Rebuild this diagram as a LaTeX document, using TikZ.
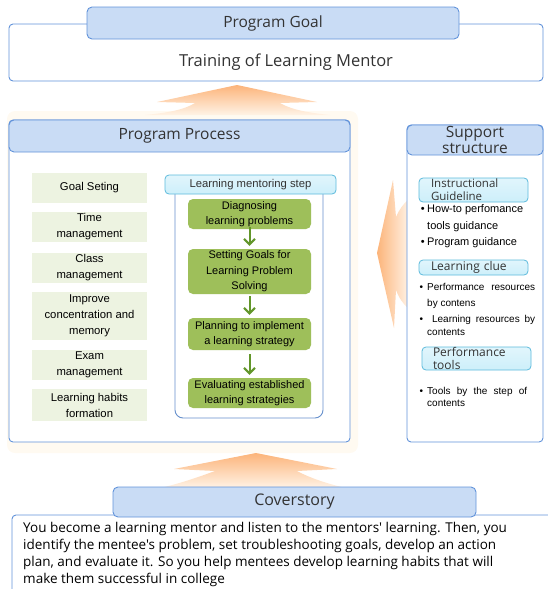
\documentclass[tikz,border=0pt]{standalone}
\usepackage{fontspec}
\setmainfont{Liberation Sans}
\newfontfamily\hfont{Open Sans}
\usetikzlibrary{arrows.meta}
\definecolor{bordblue}{HTML}{6293DA}
\definecolor{headblue}{HTML}{C9DCF5}
\definecolor{palegreen}{HTML}{EDF3E1}
\definecolor{stepgreen}{HTML}{9EBF5A}
\definecolor{flowgreen}{HTML}{62962A}
\definecolor{tagfill}{HTML}{CDEFFA}
\definecolor{tagdraw}{HTML}{5DBBDC}
\definecolor{glow}{HTML}{FFFAF1}
\definecolor{arrowtip}{HTML}{FCB47A}
\definecolor{arrowtail}{HTML}{FFF3E6}
\definecolor{ink}{HTML}{333333}
\newcommand\setfs[2]{\fontsize{#1}{#2}\selectfont}
\begin{document}
\begin{tikzpicture}[x=1pt,y=-1pt,
  frame/.style={draw=bordblue, line width=0.9pt, fill=white, rounded corners=4pt, inner sep=0pt},
  head/.style={draw=bordblue, line width=0.9pt, fill=headblue, rounded corners=5pt, inner sep=0pt,
    text=ink, font=\hfont\setfs{15.5}{17}},
  htext/.style={text=ink, inner sep=0pt, font=\hfont\setfs{16.5}{18}},
  item/.style={fill=palegreen, minimum width=115pt, inner sep=0pt, align=center, text=black,
    font=\setfs{11.3}{16}},
  stepbox/.style={fill=stepgreen, rounded corners=5pt, minimum width=123pt, inner sep=0pt,
    align=center, text=black, font=\setfs{11}{15.5}},
  tag/.style={draw=tagdraw, line width=0.8pt, top color=tagfill!60!white, bottom color=tagfill,
    rounded corners=4pt, inner ysep=0pt, align=left, text=ink, font=\hfont\setfs{11.5}{13}},
  bul/.style={inner sep=0pt, align=left, text=black, anchor=west},
  flow/.style={draw=flowgreen, line width=2pt, -{Straight Barb[length=5.5pt,width=11pt,line width=2pt]}}
]
\useasboundingbox (0,0) rectangle (547,589);

% faint glow behind the process panel
\fill[glow, rounded corners=8pt] (7,111) rectangle (358,453);

% wide orange arrows
\shade[top color=arrowtip, bottom color=arrowtail]
  (237,85) -- (317,102) -- (280,103) .. controls (292,110) and (310,113) .. (330,115)
  -- (145,115) .. controls (166,113) and (184,110) .. (195,103) -- (157,102) -- cycle;
\shade[left color=arrowtip, right color=arrowtail]
  (377,253) -- (393,180) -- (396,217) .. controls (399,210) and (403,204) .. (409,199)
  -- (409,309) .. controls (403,304) and (399,298) .. (396,290) -- (394,328) -- cycle;
\shade[top color=arrowtip, bottom color=arrowtail]
  (256,453) -- (337,469) -- (297,471) .. controls (310,478) and (328,484) .. (346,488)
  -- (160,488) .. controls (178,484) and (196,478) .. (215,471) -- (174,469) -- cycle;

% program goal
\node[frame, minimum width=534pt, minimum height=57pt] (goal) at (276,52.5) {};
\node[head, minimum width=372pt, minimum height=32pt] (goalhead) at (273,23) {Program Goal};
\node[htext] (goaltext) at (286,62) {Training of Learning Mentor};

% program process
\node[frame, minimum width=341pt, minimum height=322pt] (process) at (179.5,281) {};
\node[head, minimum width=341pt, minimum height=32pt] (processhead) at (179.5,136) {Program Process};

\node[item, minimum height=30pt] (i1) at (89.5,188) {Goal Seting};
\node[item, minimum height=30pt] (i2) at (89.5,227) {Time\\management};
\node[item, minimum height=30pt] (i3) at (89.5,268) {Class\\management};
\node[item, minimum height=48pt] (i4) at (89.5,316) {Improve\\concentration and\\memory};
\node[item, minimum height=30pt] (i5) at (89.5,365) {Exam\\management};
\node[item, minimum height=32pt] (i6) at (89.5,405) {Learning habits\\formation};

% learning mentoring steps
\node[frame, draw=bordblue!85!gray, minimum width=148pt, minimum height=233pt, rounded corners=8pt] (stepframe) at (249,301.5) {};
\node[tag, font=\setfs{11.3}{13}, minimum width=171pt, minimum height=19pt, inner xsep=0pt, align=center] (stephead) at (250.5,184.5) {Learning mentoring step};

\node[stepbox, minimum height=30pt] (s1) at (249.5,214) {Diagnosing\\learning problems};
\node[stepbox, minimum height=45pt] (s2) at (249.5,271.5) {Setting Goals for\\Learning Problem\\Solving};
\node[stepbox, minimum height=32pt] (s3) at (249.5,334) {Planning to implement\\a learning strategy};
\node[stepbox, minimum height=30pt] (s4) at (249.5,393) {Evaluating established\\learning strategies};

\draw[flow] ([yshift=2pt]s1.south) -- ([yshift=3pt]s2.north);
\draw[flow] ([yshift=-2pt]s2.south) -- ([yshift=3pt]s3.north);
\draw[flow] ([yshift=-4pt]s3.south) -- ([yshift=3pt]s4.north);

% support structure
\node[frame, minimum width=136pt, minimum height=317pt] (support) at (475,283.5) {};
\node[head, minimum width=136pt, minimum height=30pt, align=center, font=\hfont\setfs{15.5}{16}] (supporthead) at (475,140) {Support\\structure};

\node[tag, text width=85pt, inner xsep=12pt, minimum height=24pt] (tag1) at (473.5,190) {Instructional\\Guideline};
\node[bul, font=\setfs{11}{17}] (b1) at (427,218.5) {\llap{\textbullet\hspace{2.5pt}}How-to perfomance\\tools guidance};
\node[bul, font=\setfs{11}{16}] (b2) at (427,243) {\llap{\textbullet\hspace{2.5pt}}Program guidance};

\node[tag, text width=85pt, inner xsep=12pt, minimum height=15pt, font=\hfont\setfs{12}{13}] (tag2) at (473.5,267.5) {Learning clue};
\node[bul, font=\setfs{10}{16}] (b3) at (427,296) {\llap{\textbullet\hspace{4pt}}\makebox[108pt][s]{Performance resources}\\by contens};
\node[bul, font=\setfs{10}{13}] (b4) at (427,325.5) {\llap{\textbullet\hspace{4pt}}\makebox[108pt][s]{\ Learning resources by}\\contents};

\node[tag, text width=87pt, inner xsep=11pt, minimum height=23pt, font=\hfont\setfs{12}{13}] (tag3) at (476.5,358.5) {Performance\\tools};
\node[bul, font=\setfs{10}{12}] (b5) at (427,397) {\llap{\textbullet\hspace{4pt}}\makebox[100pt][s]{Tools by the step of}\\contents};

% coverstory
\draw[bordblue, line width=0.9pt, fill=white, rounded corners=4pt] (551,515) -- (12,515) -- (12,593);
\node[head, minimum width=363pt, minimum height=30pt, font=\hfont\setfs{16}{18}] (coverhead) at (294.5,502) {Coverstory};
\node[anchor=north west, inner sep=0pt, align=left, text=black, font=\hfont\setfs{13.5}{16.7}] (covertext) at (23,522.5)
  {You become a learning mentor and listen to the mentors' learning. Then, you\\
   identify the mentee's problem, set troubleshooting goals, develop an action\\
   plan, and evaluate it. So you help mentees develop learning habits that will\\
   make them successful in college};
\end{tikzpicture}
\end{document}
